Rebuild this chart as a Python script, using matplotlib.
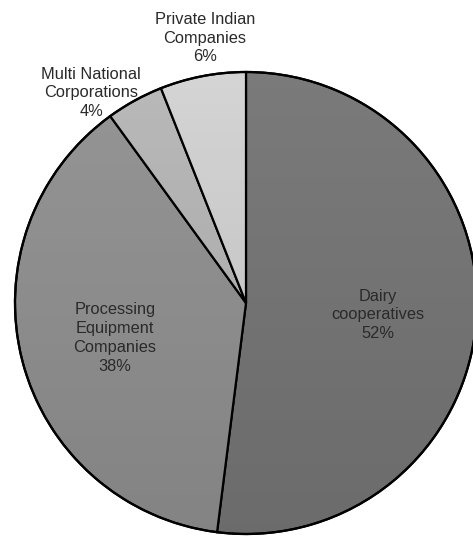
import numpy as np
import matplotlib.pyplot as plt
import matplotlib.patches as patches

plt.rcParams['font.family'] = ['Liberation Sans', 'DejaVu Sans']

# Share of each segment (percent), drawn clockwise from 12 o'clock
segments = ['Dairy\ncooperatives', 'Processing\nEquipment\nCompanies',
            'Multi National\nCorporations', 'Private Indian\nCompanies']
shares = [52, 38, 4, 6]
colors = ['#7a7a7a', '#959595', '#b9b9b9', '#d4d4d4']

# label anchor points in pixel coordinates (x, y from the top)
label_pos = [(378, 315), (115, 338), (91, 93), (205, 38)]

W, H = 473, 536
cx, cy, r = 246, H - 303, 231

fig = plt.figure(figsize=(W / 100, H / 100), dpi=100)
ax = fig.add_axes([0, 0, 1, 1])

wedges, _ = ax.pie(shares, colors=colors, startangle=90, counterclock=False,
                   center=(cx, cy), radius=r, frame=True,
                   wedgeprops=dict(edgecolor='black', linewidth=1.6))
ax.set_xlim(0, W)
ax.set_ylim(0, H)
ax.set_aspect('equal')
ax.axis('off')

# soft vertical shading over the pie, lighter at the top
grad = np.linspace(0, 1, 256).reshape(-1, 1)
shade = np.zeros((256, 1, 4))
shade[..., 3] = 0.12 * grad
img = ax.imshow(shade, extent=(cx - r, cx + r, cy - r, cy + r),
                origin='upper', aspect='auto', zorder=3)
img.set_clip_path(patches.Circle((cx, cy), r, transform=ax.transData))
ax.add_patch(patches.Circle((cx, cy), r, fill=False, edgecolor='black',
                            linewidth=1.6, zorder=4))

for name, share, (lx, ly) in zip(segments, shares, label_pos):
    ax.text(lx, H - ly, f'{name}\n{share}%', ha='center', va='center',
            fontsize=11.8, color='#2a2a2a', linespacing=1.32, zorder=5)

plt.savefig('out.png', dpi=100)
